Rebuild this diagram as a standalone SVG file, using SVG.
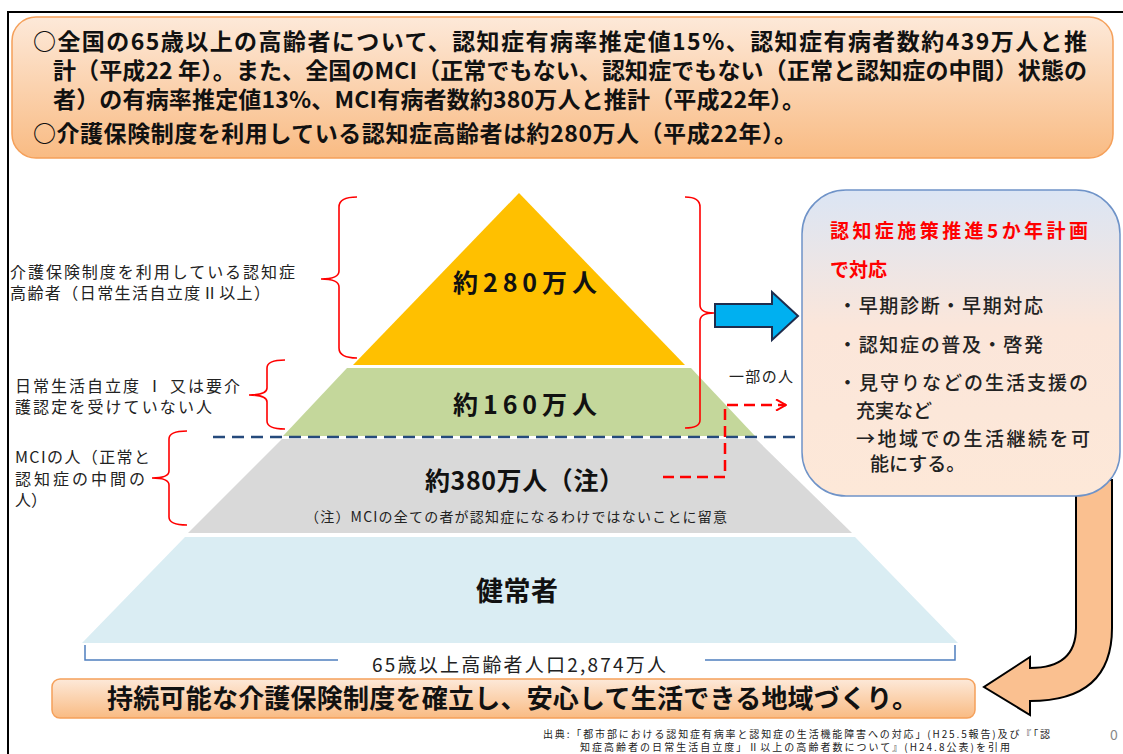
<svg xmlns="http://www.w3.org/2000/svg" width="1123" height="754" viewBox="0 0 1123 754">
<defs>
<linearGradient id="gOr" x1="0" y1="0" x2="0" y2="1">
<stop offset="0" stop-color="#fde9d9"/>
<stop offset="1" stop-color="#f9bb83"/>
</linearGradient>
<linearGradient id="gBox" x1="0" y1="0" x2="0" y2="1">
<stop offset="0" stop-color="#dbe5f4"/>
<stop offset="0.45" stop-color="#fbe6da"/>
<stop offset="1" stop-color="#fde8d8"/>
</linearGradient>
<marker id="chev" viewBox="0 0 10 10" refX="9" refY="5" markerWidth="5" markerHeight="5" orient="auto" markerUnits="strokeWidth">
<path d="M1,0.5 L9,5 L1,9.5" fill="none" stroke="#ff0000" stroke-width="1.6"/>
</marker>
<style>
.t{font-family:"Noto Sans CJK JP","Noto Sans",sans-serif;}
.hd{font-size:23px;font-weight:700;fill:#111;}
.lb{font-size:16px;fill:#222;}
.pl{font-size:25px;font-weight:700;fill:#111;}
.bx{font-size:19px;font-weight:500;fill:#222;}
.red{fill:#ff0000;font-weight:700;}
.br{fill:none;stroke:#ff0000;stroke-width:1.6;}
</style>
</defs>
<rect width="1123" height="754" fill="#ffffff"/>
<path d="M8,754 L8,12 L1123,12" fill="none" stroke="#000" stroke-width="2"/>

<g id="header">
<rect x="12" y="17" width="1101" height="141" rx="24" fill="url(#gOr)" stroke="#f5a05a" stroke-width="1.5"/>
<text class="t hd" x="33" y="50" textLength="1054">○全国の65歳以上の高齢者について、認知症有病率推定値15%、認知症有病者数約439万人と推</text>
<text class="t hd" x="53" y="79" textLength="1034">計（平成22 年）。また、全国のMCI（正常でもない、認知症でもない（正常と認知症の中間）状態の</text>
<text class="t hd" x="53" y="108" textLength="752">者）の有病率推定値13%、MCI有病者数約380万人と推計（平成22年）。</text>
<text class="t hd" x="33" y="142" textLength="764">○介護保険制度を利用している認知症高齢者は約280万人（平成22年）。</text>
</g>

<g id="curved-arrow">
<path d="M1076,480 L1076,628 Q1076,668 1030,668 L1030,657 L984,687 L1030,715 L1030,701 Q1112,701 1112,628 L1112,480 Z" fill="#fac090" stroke="#000" stroke-width="2" stroke-linejoin="miter"/>
</g>

<g id="pyramid">
<polygon id="layer-280" points="519,193 685,365 353,365" fill="#ffc000"/>
<polygon id="layer-160" points="347,368 691,368 755,436 283,436" fill="#c4d79b"/>
<polygon id="layer-380" points="282,439 756,439 852,533 188,533" fill="#d9d9d9"/>
<polygon id="layer-healthy" points="185,537 855,537 958,643 82,643" fill="#daedf3"/>
<text class="t pl" x="453" y="292" textLength="144">約280万人</text>
<text class="t pl" x="453" y="414" textLength="144">約160万人</text>
<text class="t pl" x="425" y="490" textLength="199">約380万人（注）</text>
<text class="t" x="305" y="522" textLength="422" font-size="14" fill="#222">（注）MCIの全ての者が認知症になるわけではないことに留意</text>
<text class="t" x="476" y="601" textLength="82" font-size="27" font-weight="700" fill="#111">健常者</text>
</g>

<g id="connectors">
<line x1="213" y1="437" x2="805" y2="437" stroke="#254a7c" stroke-width="2.5" stroke-dasharray="12,7"/>
<path d="M663,477 L725,477 L725,405 L786,405" fill="none" stroke="#ff0000" stroke-width="2.5" stroke-dasharray="11,6" marker-end="url(#chev)"/>
<polygon points="715,304 772,304 772,292 798,316 772,340 772,327 715,327" fill="#00b0f0" stroke="#1f2d4d" stroke-width="2"/>
<path class="br" d="M357,197 Q339,197 339,207 L339,271 Q339,279 321,279 Q339,279 339,287 L339,348 Q339,358 357,358"/>
<path class="br" d="M285,360 Q267,360 267,368 L267,388 Q267,395 249,395 Q267,395 267,402 L267,421 Q267,429 285,429"/>
<path class="br" d="M187,431 Q169,431 169,439 L169,471 Q169,478 152,478 Q169,478 169,485 L169,517 Q169,525 187,525"/>
<path class="br" d="M685,197 Q700,197 700,207 L700,305 Q700,313 714,313 Q700,313 700,321 L700,420 Q700,428 685,428"/>
<path d="M85,645 L85,660 L338,660 M705,660 L955,660 L955,645" fill="none" stroke="#4f7fbf" stroke-width="1.5"/>
</g>

<g id="labels">
<text class="t lb" x="10" y="278" textLength="285">介護保険制度を利用している認知症</text>
<text class="t lb" x="10" y="299" textLength="260">高齢者（日常生活自立度Ⅱ以上）</text>
<text class="t lb" x="15" y="392" textLength="225">日常生活自立度 Ⅰ 又は要介</text>
<text class="t lb" x="15" y="413" textLength="197">護認定を受けていない人</text>
<text class="t lb" x="15" y="463" textLength="135">MCIの人（正常と</text>
<text class="t lb" x="15" y="485" textLength="130">認知症の中間の</text>
<text class="t lb" x="15" y="506">人）</text>
<text class="t" x="729" y="382" textLength="64" font-size="15" fill="#222">一部の人</text>
<text class="t" x="372" y="672" textLength="294" font-size="19" fill="#222">65歳以上高齢者人口2,874万人</text>
</g>

<g id="policy-box">
<rect x="802" y="190" width="318" height="306" rx="44" fill="url(#gBox)" stroke="#6f93c8" stroke-width="1.5"/>
<text class="t bx red" x="830" y="238" textLength="258">認知症施策推進5か年計画</text>
<text class="t bx red" x="830" y="277">で対応</text>
<text class="t bx" x="838" y="313" textLength="205">・早期診断・早期対応</text>
<text class="t bx" x="838" y="352" textLength="205">・認知症の普及・啓発</text>
<text class="t bx" x="838" y="390" textLength="250">・見守りなどの生活支援の</text>
<text class="t bx" x="856" y="418">充実など</text>
<text class="t bx" x="856" y="446" textLength="234">→地域での生活継続を可</text>
<text class="t bx" x="870" y="471">能にする。</text>
</g>

<g id="goal-box">
<rect x="52" y="679" width="923" height="39" rx="8" fill="url(#gOr)" stroke="#f5a05a" stroke-width="1.5"/>
<text class="t" x="107" y="708" textLength="811" font-size="26" font-weight="700" fill="#111">持続可能な介護保険制度を確立し、安心して生活できる地域づくり。</text>
</g>

<g id="source">
<text class="t" x="543" y="738" textLength="507" font-size="10" fill="#222">出典:「都市部における認知症有病率と認知症の生活機能障害への対応」(H25.5報告)及び『「認</text>
<text class="t" x="580" y="751" textLength="430" font-size="10" fill="#222">知症高齢者の日常生活自立度」Ⅱ以上の高齢者数について』(H24.8公表)を引用</text>
<text class="t" x="1110" y="740" font-size="14" fill="#888">0</text>
</g>
</svg>
